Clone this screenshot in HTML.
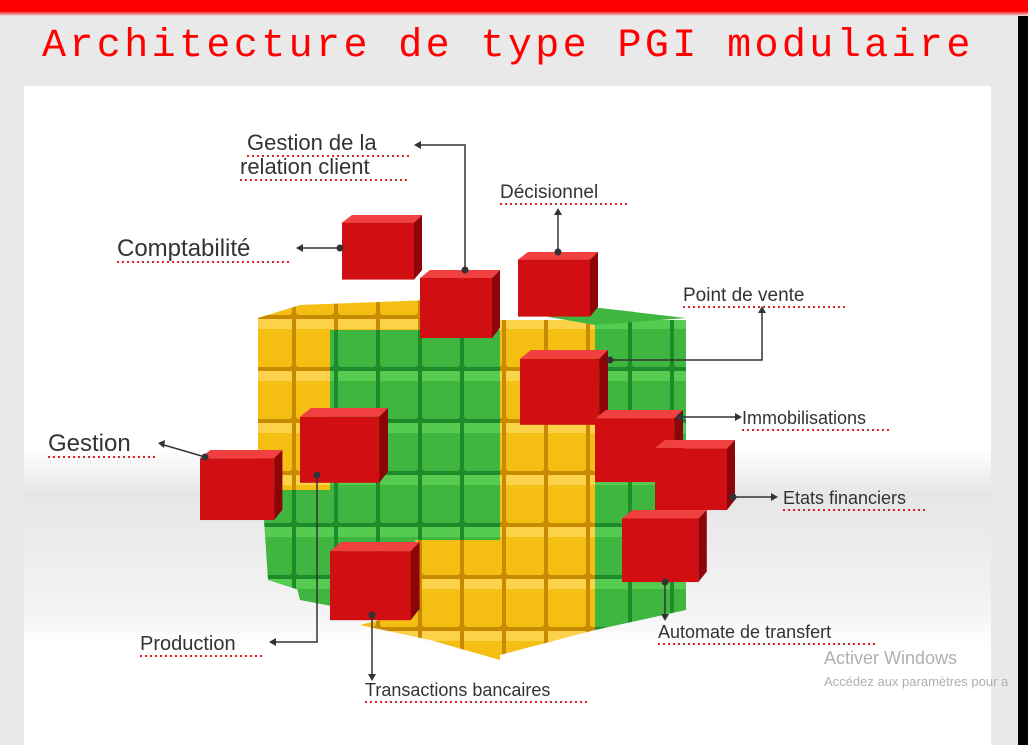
<!DOCTYPE html>
<html><head><meta charset="utf-8"><style>
body{margin:0;width:1028px;height:745px;overflow:hidden;background:#e9e9e9;position:relative;font-family:"Liberation Sans",sans-serif}
.bar{position:absolute;left:0;top:0;width:1028px;height:16px;background:linear-gradient(#f00 0,#f00 11px,#e88 14px,#e9e9e9 16px)}
.title{position:absolute;left:42px;top:22px;font-family:"Liberation Mono",monospace;font-size:40px;letter-spacing:3.4px;color:#f00;line-height:50px}
.black{position:absolute;left:1018px;top:16px;width:10px;height:729px;background:#000}
svg{position:absolute;left:0;top:0}
.l{font-family:"Liberation Sans",sans-serif;fill:#333}
</style></head><body>
<div class="bar"></div>
<div class="title">Architecture de type PGI modulaire</div>
<svg width="1028" height="745" viewBox="0 0 1028 745">
<defs>
<linearGradient id="bg" x1="0" y1="0" x2="0" y2="1">
<stop offset="0" stop-color="#fff"/><stop offset="0.55" stop-color="#fff"/><stop offset="0.62" stop-color="#e6e6e6"/><stop offset="0.8" stop-color="#f4f4f4"/><stop offset="0.85" stop-color="#fff"/><stop offset="1" stop-color="#fff"/>
</linearGradient>
<pattern id="gl" x="0" y="5" width="42" height="52" patternUnits="userSpaceOnUse"><rect width="42" height="52" fill="#1f8a2a"/><rect x="2" y="2" width="38" height="48" rx="3" fill="#3fb63f"/><rect x="2" y="2" width="38" height="10" fill="#55cc4f"/></pattern>
<pattern id="yl" x="0" y="5" width="42" height="52" patternUnits="userSpaceOnUse"><rect width="42" height="52" fill="#c88a00"/><rect x="2" y="2" width="38" height="48" rx="3" fill="#f5be12"/><rect x="2" y="2" width="38" height="10" fill="#fbd24a"/></pattern>
<g id="rc"><polygon points="0,8 10,0 80,0 72,8" fill="#f04040"/><rect x="0" y="8" width="72" height="60" fill="#d10f12"/><polygon points="72,8 80,0 80,58 72,68" fill="#8d0508"/></g>
</defs>
<rect x="24" y="86" width="967" height="659" fill="url(#bg)"/>
<!-- big cube -->
<polygon points="258,318 300,305 430,300 430,330 258,330" fill="url(#yl)"/>
<rect x="258" y="318" width="72" height="172" fill="url(#yl)"/>
<polygon points="262,490 330,490 330,600 268,580" fill="url(#gl)"/>
<polygon points="330,330 500,330 500,540 330,540" fill="url(#gl)"/>
<polygon points="285,540 430,540 430,625 300,600" fill="url(#gl)"/>
<polygon points="500,320 595,320 595,630 500,655" fill="url(#yl)"/>
<polygon points="415,540 500,540 500,660 430,640 360,625 420,610" fill="url(#yl)"/>
<polygon points="595,320 686,320 686,610 595,630" fill="url(#gl)"/>
<polygon points="520,312 600,308 686,318 595,325" fill="#3fb63f"/>
<!-- red cubes -->
<use href="#rc" transform="translate(342,215) scale(1,0.95)"/>
<use href="#rc" transform="translate(420,270)"/>
<use href="#rc" transform="translate(518,252) scale(1,0.95)"/>
<use href="#rc" transform="translate(520,350) scale(1.1,1.1)"/>
<use href="#rc" transform="translate(300,408) scale(1.1,1.1)"/>
<use href="#rc" transform="translate(200,450) scale(1.03,1.03)"/>
<use href="#rc" transform="translate(595,410) scale(1.1,1.06)"/>
<use href="#rc" transform="translate(655,440) scale(1,1.03)"/>
<use href="#rc" transform="translate(622,510) scale(1.06,1.06)"/>
<use href="#rc" transform="translate(330,542) scale(1.12,1.15)"/>
<!-- connectors -->
<g stroke="#333" stroke-width="1.5" fill="none">
<polyline points="420,145 465,145 465,270"/>
<line x1="558" y1="252" x2="558" y2="214"/>
<line x1="340" y1="248" x2="302" y2="248"/>
<polyline points="610,360 762,360 762,312"/>
<line x1="680" y1="417" x2="736" y2="417"/>
<line x1="205" y1="457" x2="164" y2="445"/>
<line x1="733" y1="497" x2="772" y2="497"/>
<polyline points="317,475 317,642 275,642"/>
<line x1="665" y1="582" x2="665" y2="615"/>
<line x1="372" y1="615" x2="372" y2="675"/>
</g>
<g fill="#333">
<circle cx="465" cy="270" r="3.5"/><circle cx="558" cy="252" r="3.5"/><circle cx="340" cy="248" r="3.5"/><circle cx="610" cy="360" r="3.5"/><circle cx="680" cy="417" r="3.5"/><circle cx="205" cy="457" r="3.5"/><circle cx="733" cy="497" r="3.5"/><circle cx="317" cy="475" r="3.5"/><circle cx="665" cy="582" r="3.5"/><circle cx="372" cy="615" r="3.5"/>
<polygon points="414,145 421,141 421,149"/>
<polygon points="558,208 554,215 562,215"/>
<polygon points="296,248 303,244 303,252"/>
<polygon points="762,306 758,313 766,313"/>
<polygon points="742,417 735,413 735,421"/>
<polygon points="158,443 165,440 164,448"/>
<polygon points="778,497 771,493 771,501"/>
<polygon points="269,642 276,638 276,646"/>
<polygon points="665,621 661,614 669,614"/>
<polygon points="372,681 368,674 376,674"/>
</g>
<!-- labels -->
<g class="l">
<text x="247" y="150" font-size="22">Gestion de la</text>
<text x="240" y="174" font-size="22">relation client</text>
<text x="500" y="198" font-size="19">Décisionnel</text>
<text x="117" y="256" font-size="24">Comptabilité</text>
<text x="683" y="301" font-size="19">Point de vente</text>
<text x="742" y="424" font-size="18">Immobilisations</text>
<text x="48" y="451" font-size="24">Gestion</text>
<text x="783" y="504" font-size="18">Etats financiers</text>
<text x="140" y="650" font-size="20">Production</text>
<text x="658" y="638" font-size="18">Automate de transfert</text>
<text x="365" y="696" font-size="18">Transactions bancaires</text>
</g>
<g stroke="#e02020" stroke-width="2" stroke-dasharray="2,3">
<line x1="247" y1="156" x2="410" y2="156"/><line x1="240" y1="180" x2="410" y2="180"/>
<line x1="500" y1="204" x2="627" y2="204"/><line x1="117" y1="262" x2="292" y2="262"/>
<line x1="683" y1="307" x2="846" y2="307"/><line x1="742" y1="430" x2="892" y2="430"/>
<line x1="48" y1="457" x2="155" y2="457"/><line x1="783" y1="510" x2="928" y2="510"/>
<line x1="140" y1="656" x2="262" y2="656"/><line x1="658" y1="644" x2="877" y2="644"/>
<line x1="365" y1="702" x2="588" y2="702"/>
</g>
<text x="824" y="664" font-size="18" fill="#b0b0b0" font-family="Liberation Sans,sans-serif">Activer Windows</text>
<text x="824" y="686" font-size="13" fill="#b0b0b0" font-family="Liberation Sans,sans-serif">Accédez aux paramètres pour a</text>
</svg>
<div class="black"></div>
</body></html>
